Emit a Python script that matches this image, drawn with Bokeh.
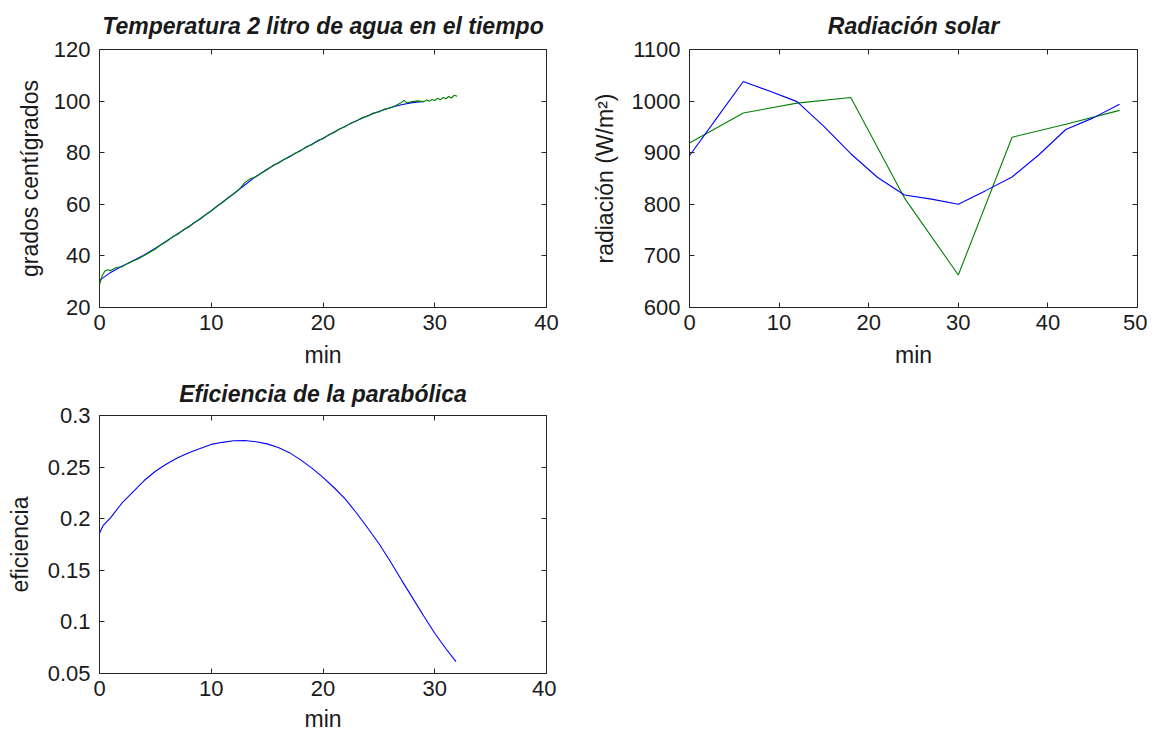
from bokeh.plotting import figure
from bokeh.models import Range1d, LinearAxis, FixedTicker
from bokeh.layouts import column, row
from bokeh.embed import file_html
from bokeh.resources import INLINE

# ---------------- data ----------------
# Temperatura: smooth (blue) and measured (green)
temp_fit_min = [0, 1, 2, 3, 4, 5, 6, 7, 8, 9,
                10, 11, 12, 13, 14, 15, 16, 17, 18, 19,
                20, 21, 22, 23, 24, 25, 26, 27, 28, 29]
temp_fit = [30.5, 33.6, 36.0, 38.1, 40.4, 43.0, 45.8, 48.6, 51.4, 54.4,
            57.5, 60.8, 64.1, 67.5, 70.8, 73.6, 76.1, 78.5, 80.9, 83.3,
            85.6, 88.0, 90.3, 92.4, 94.3, 96.0, 97.4, 98.6, 99.4, 99.9]

temp_meas_min = [0, 0.25, 0.5, 0.75, 1.0, 1.5, 2.0, 2.5, 3.0, 3.5,
                 4.0, 4.5, 5.0, 5.5, 6.0, 6.5, 7.0, 7.5, 8.0, 8.5,
                 9.0, 9.5, 10.0, 10.5, 11.0, 11.5, 12.0, 12.5, 13.0, 13.5,
                 14.0, 14.5, 15.0, 15.5, 16.0, 16.5, 17.0, 17.5, 18.0, 18.5,
                 19.0, 19.5, 20.0, 20.5, 21.0, 21.5, 22.0, 22.5, 23.0, 23.5,
                 24.0, 24.5, 25.0, 25.5, 26.0, 26.5, 27.0, 27.25, 27.5, 28.0,
                 28.5, 29.0, 29.25, 29.5, 29.75, 30.0, 30.25, 30.5, 30.75, 31.0,
                 31.25, 31.5, 31.75, 32.0]
temp_meas = [28.8, 32.5, 34.2, 34.6, 34.3, 35.5, 35.8, 37.0, 38.0, 38.9,
             40.1, 41.4, 42.7, 44.3, 45.6, 47.3, 48.4, 50.1, 51.2, 53.0,
             54.2, 56.0, 57.4, 59.3, 60.7, 62.6, 64.0, 65.8, 68.4, 69.9,
             70.7, 72.1, 73.4, 75.0, 75.9, 77.4, 78.3, 79.8, 80.7, 82.3,
             83.1, 84.7, 85.4, 86.9, 87.8, 89.3, 90.1, 91.5, 92.3, 93.6,
             94.1, 95.4, 95.8, 96.9, 97.3, 98.3, 99.4, 100.3, 99.3, 99.8,
             100.1, 99.7, 100.4, 99.9, 100.6, 100.2, 101.1, 100.5, 101.4, 100.9,
             101.8, 101.2, 102.3, 101.9]

# Radiación solar
rad_blue_min = [0, 3, 6, 9, 12, 15, 18, 21, 24, 27, 30, 33, 36, 39, 42, 45, 48]
rad_blue = [894, 966, 1038, 1019, 999, 951, 898, 852, 818, 810, 800, 826, 853, 896, 945, 967, 994]
rad_green_min = [0, 6, 12, 18, 24, 30, 36, 42, 48]
rad_green = [919, 977, 996, 1007, 812, 663, 930, 955, 982]

# Eficiencia
eff_min = [0, 0.3, 1, 2, 3, 4, 5, 6, 7, 8, 9, 10, 11, 12, 13, 14, 15, 16, 17,
           18, 19, 20, 21, 22, 23, 24, 25, 26, 27, 28, 29, 30, 31, 31.9]
eff = [0.186, 0.193, 0.201, 0.215, 0.226, 0.237, 0.246, 0.253, 0.259, 0.264,
       0.268, 0.272, 0.274, 0.2755, 0.2758, 0.2745, 0.2725, 0.269, 0.264, 0.257,
       0.249, 0.240, 0.230, 0.219, 0.2055, 0.191, 0.176, 0.159, 0.141, 0.1235,
       0.106, 0.089, 0.074, 0.0615]

# ticks
t1_x = [0, 10, 20, 30, 40]
t1_y = [20, 40, 60, 80, 100, 120]
t2_x = [0, 10, 20, 30, 40, 50]
t2_y = [600, 700, 800, 900, 1000, 1100]
t3_x = [0, 10, 20, 30, 40]
t3_y = [0.05, 0.1, 0.15, 0.2, 0.25, 0.3]
t3_y_labels = ["0.05", "0.1", "0.15", "0.2", "0.25", "0.3"]

FONT = "Liberation Sans"
TXT = "#1a1a1a"
FRAME = "#262626"
BLUE = "#0000ff"
GREEN = "#008000"
FS_TICK = "22px"
FS_LABEL = "23px"


def style_axis(ax, ticks, labels=None, label=None, show_labels=True,
               label_standoff=8, tick_standoff=9):
    ax.ticker = FixedTicker(ticks=ticks)
    ax.major_tick_in = 5
    ax.major_tick_out = 0
    ax.major_tick_line_color = FRAME
    ax.minor_tick_line_color = None
    ax.axis_line_color = None
    if show_labels:
        ax.major_label_text_font = FONT
        ax.major_label_text_font_size = FS_TICK
        ax.major_label_text_color = TXT
        ax.major_label_standoff = tick_standoff
        if labels is not None:
            ax.major_label_overrides = {t: s for t, s in zip(ticks, labels)}
        if label is not None:
            ax.axis_label = label
            ax.axis_label_text_font = FONT
            ax.axis_label_text_font_size = FS_LABEL
            ax.axis_label_text_font_style = "normal"
            ax.axis_label_text_color = TXT
            ax.axis_label_standoff = label_standoff
    else:
        ax.major_label_text_font_size = "1px"
        ax.major_label_text_color = None
        ax.major_label_standoff = 0


def make_fig(title, xlabel, ylabel, xr, yr, xt, yt, ylabels, bl, br, bt, bb, fw, fh,
             ylabel_standoff=8, xlabel_standoff=9, title_standoff=8):
    p = figure(output_backend="svg", toolbar_location=None,
               frame_width=fw, frame_height=fh,
               x_range=Range1d(*xr), y_range=Range1d(*yr),
               x_axis_type=None, y_axis_type=None,
               min_border_left=bl, min_border_right=br,
               min_border_top=bt, min_border_bottom=bb)
    p.grid.visible = False
    p.outline_line_color = FRAME
    p.outline_line_width = 1
    p.outline_line_alpha = 1.0
    p.background_fill_color = "white"
    p.border_fill_color = "white"

    xb = LinearAxis()
    style_axis(xb, xt, label=xlabel, label_standoff=xlabel_standoff, tick_standoff=7)
    p.add_layout(xb, "below")
    yl = LinearAxis()
    style_axis(yl, yt, labels=ylabels, label=ylabel, label_standoff=ylabel_standoff)
    p.add_layout(yl, "left")
    xa = LinearAxis()
    style_axis(xa, xt, show_labels=False)
    p.add_layout(xa, "above")
    yr_ = LinearAxis()
    style_axis(yr_, yt, show_labels=False)
    p.add_layout(yr_, "right")

    p.title.text = title
    p.title.align = "center"
    p.title.vertical_align = "top"
    p.title.text_font = FONT
    p.title.text_font_size = "23px"
    p.title.text_font_style = "bold italic"
    p.title.text_color = TXT
    p.title.standoff = title_standoff
    return p


p1 = make_fig("Temperatura 2 litro de agua en el tiempo", "min", "grados centígrados",
              (0, 40), (20, 120), t1_x, t1_y, None, 99, 41, 49, 64, 447, 258,
              title_standoff=18)
p1.line(temp_fit_min, temp_fit, line_color=BLUE, line_width=1.1)
p1.line(temp_meas_min, temp_meas, line_color=GREEN, line_width=1.1)

p2 = make_fig("Radiación solar", "min", "radiación (W/m²)",
              (0, 50), (600, 1100), t2_x, t2_y, None, 102, 10, 49, 64, 448, 258,
              ylabel_standoff=11, title_standoff=18)
p2.line(rad_green_min, rad_green, line_color=GREEN, line_width=1.1)
p2.line(rad_blue_min, rad_blue, line_color=BLUE, line_width=1.1)

p3 = make_fig("Eficiencia de la parabólica", "min", "eficiencia",
              (0, 40), (0.05, 0.3), t3_x, t3_y, t3_y_labels, 99, 10, 44, 62, 447, 258,
              ylabel_standoff=12, xlabel_standoff=7, title_standoff=13)
p3.line(eff_min, eff, line_color=BLUE, line_width=1.1)

layout = column(row(p1, p2), p3)

open("out.html", "w").write(file_html(layout, INLINE))
